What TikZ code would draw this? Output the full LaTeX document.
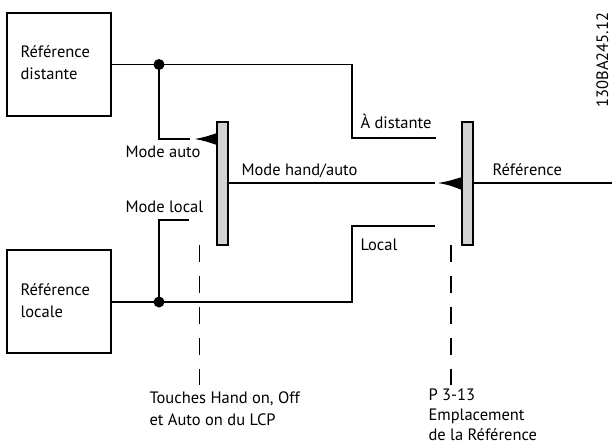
\documentclass[tikz,border=0pt]{standalone}
\usepackage{fontspec}
\setmainfont{PT Sans}
\definecolor{bargray}{HTML}{D1D2D4}
\begin{document}
\begin{tikzpicture}[x=1pt,y=-1pt,line width=1.1pt,
 refbox/.style={draw,minimum width=104pt,minimum height=103pt,inner sep=0pt},
 switchbar/.style={draw,fill=bargray,minimum width=11pt,minimum height=123pt,inner sep=0pt},
 junction/.style={circle,fill,inner sep=0pt,minimum size=11pt},
 lbl/.style={font=\fontsize{16.5}{19}\selectfont,inner sep=0pt,anchor=base west},
 guide/.style={dash pattern=on 16.5pt off 14.5pt},
 tipfill/.style={fill=black,draw=none}]
\useasboundingbox (0,0) rectangle (612,445);
% boxes
\node[refbox] (dist) at (59,64.5) {};
\node[refbox] (loc) at (59,301.5) {};
\node[lbl] (distA) at (20,57) {Référence};
\node[lbl] (distB) at (20,79) {distante};
\node[lbl] (locA) at (20,295) {Référence};
\node[lbl] (locB) at (20,317) {locale};
% bars
\node[switchbar] (barA) at (222.5,183.5) {};
\node[switchbar] (barB) at (467.5,183.5) {};
% junctions
\node[junction] (dotA) at (159,64.5) {};
\node[junction] (dotB) at (159,302) {};
% coordinates
\coordinate (tA1) at (352,64.5);
\coordinate (tA2) at (352,138);
\coordinate (tA3) at (436,138);
\coordinate (aA1) at (159,139);
\coordinate (aA2) at (190,139);
\coordinate (lA1) at (159,220);
\coordinate (lA2) at (189,220);
\coordinate (bB1) at (352,302);
\coordinate (bB2) at (352,226);
\coordinate (bB3) at (435,226);
\coordinate (hA) at (228,183);
\coordinate (hB) at (435,183);
\coordinate (rA) at (473,183);
\coordinate (rB) at (612,183);
\coordinate (dA1) at (199.5,245);
\coordinate (dA2) at (199.5,385);
\coordinate (dB1) at (451,245);
\coordinate (dB2) at (451,385);
% wires
\draw (dist.east |- dotA) -- (dotA.center) -- (tA1) -- (tA2) -- (tA3);
\draw (dotA.center) -- (aA1) -- (aA2);
\draw (loc.east |- dotB) -- (dotB.center) -- (bB1) -- (bB2) -- (bB3);
\draw (dotB.center) -- (lA1) -- (lA2);
\draw (hA) -- (hB);
\draw (rA) -- (rB);
\draw[guide] (dA1) -- (dA2);
\draw[guide] (dB1) -- (dB2);
% arrow tips
\fill[tipfill] (195,139) .. controls (205,137) .. (217,133) -- (217,145) .. controls (205,141) .. cycle;
\fill[tipfill] (438,183) .. controls (449,181) .. (462,177) -- (462,190) .. controls (449,185) .. cycle;
% labels
\node[lbl] (mauto) at (125,157) {Mode auto};
\node[lbl] (mlocal) at (125,212) {Mode local};
\node[lbl] (mhand) at (241,175) {Mode hand/auto};
\node[lbl] (adist) at (360,128) {À distante};
\node[lbl] (local) at (360,250) {Local};
\node[lbl] (ref) at (492,175) {Référence};
\node[lbl] (tchA) at (149,403) {Touches Hand on, Off};
\node[lbl] (tchB) at (149,425) {et Auto on du LCP};
\node[lbl] (pA) at (428,400) {P 3-13};
\node[lbl] (pB) at (428,420) {Emplacement};
\node[lbl] (pC) at (428,440) {de la Référence};
\node[lbl,rotate=90] (code) at (608,108) {130BA245.12};
\end{tikzpicture}
\end{document}
